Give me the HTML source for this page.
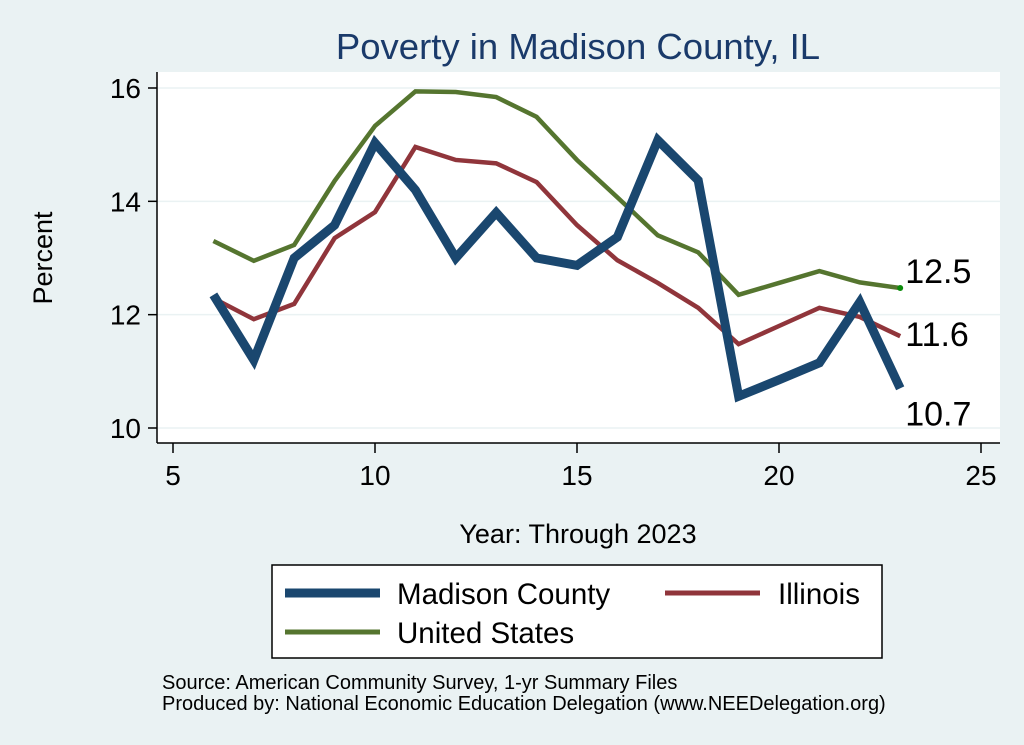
<!DOCTYPE html>
<html><head><meta charset="utf-8"><style>
body{margin:0;background:#eaf2f3;}
svg{display:block;font-family:"Liberation Sans",sans-serif;}
</style></head><body>
<svg id="chart" width="1024" height="745">
<rect width="1024" height="745" fill="#eaf2f3"/>
<text x="578" y="59" font-size="36.5" fill="#1a3a6a" text-anchor="middle">Poverty in Madison County, IL</text>
<rect x="157" y="72" width="843" height="371" fill="#fff"/>
<g id="grid"></g><g id="axes"></g><g id="series"></g>
<text x="52" y="258" font-size="27" text-anchor="middle" transform="rotate(-90 52 258)">Percent</text>
<text x="578" y="543" font-size="27" text-anchor="middle">Year: Through 2023</text>
<g>
<rect x="272" y="565" width="610" height="93" fill="#fff" stroke="#000" stroke-width="1.5"/>
<line x1="285" y1="593" x2="380" y2="593" stroke="#1a476f" stroke-width="9"/>
<text x="397" y="604" font-size="29.5">Madison County</text>
<line x1="665" y1="593" x2="760" y2="593" stroke="#90353b" stroke-width="5"/>
<text x="778" y="604" font-size="29.5">Illinois</text>
<line x1="285" y1="632" x2="380" y2="632" stroke="#55752f" stroke-width="5"/>
<text x="397" y="643" font-size="29.5">United States</text>
</g>
<text x="162" y="689" font-size="20">Source: American Community Survey, 1-yr Summary Files</text>
<text x="162" y="710" font-size="20">Produced by: National Economic Education Delegation (www.NEEDelegation.org)</text>
</svg>
<script>
const years=[6,7,8,9,10,11,12,13,14,15,16,17,18,19,20,21,22,23];
const madison=[12.35,11.2,13.0,13.58,15.03,14.2,13.0,13.8,13.0,12.87,13.37,15.08,14.37,10.56,10.85,11.15,12.22,10.7];
const illinois=[12.29,11.92,12.19,13.35,13.81,14.96,14.73,14.67,14.34,13.58,12.96,12.56,12.12,11.48,11.8,12.12,11.96,11.62];
const us=[13.3,12.95,13.23,14.36,15.33,15.94,15.93,15.84,15.49,14.73,14.07,13.4,13.1,12.35,12.56,12.77,12.57,12.47];
const xTicks=[5,10,15,20,25];
const yTicks=[10,12,14,16];
const endLabels=["12.5","11.6","10.7"];
const NS="http://www.w3.org/2000/svg";
const X=v=>173+(v-5)*(981-173)/20;
const Y=v=>428-(v-10)*(428-88)/6;
function mk(t,a,p){const e=document.createElementNS(NS,t);for(const k in a)e.setAttribute(k,a[k]);p.appendChild(e);return e;}
const grid=document.getElementById('grid'),axes=document.getElementById('axes'),ser=document.getElementById('series');
yTicks.forEach(t=>{
 const g=mk('line',{x1:157,x2:1000,y1:Y(t),y2:Y(t),stroke:'#eaf2f3','stroke-width':1.5},grid);
 
 
 const tk=mk('line',{x1:148,x2:157,y1:Y(t),y2:Y(t),stroke:'#000','stroke-width':1.5},axes);
 
 
 const l=mk('text',{x:141,y:Y(t)+10,'font-size':28,'text-anchor':'end'},axes);l.textContent=t;
 
 
});
xTicks.forEach(t=>{
 const tk=mk('line',{x1:X(t),x2:X(t),y1:443,y2:453,stroke:'#000','stroke-width':1.5},axes);
 
 
 const l=mk('text',{x:X(t),y:485,'font-size':28,'text-anchor':'middle'},axes);l.textContent=t;
 
 
});
const ya=mk('line',{x1:157,x2:157,y1:72,y2:443,stroke:'#000','stroke-width':1.5},axes);


const xa=mk('line',{x1:157,x2:1000,y1:443,y2:443,stroke:'#000','stroke-width':1.5},axes);


function line(vals,color,w,name){
 const p=mk('polyline',{points:vals.map((v,i)=>X(years[i])+','+Y(v)).join(' '),fill:'none',stroke:color,'stroke-width':w,'stroke-linejoin':'miter'},ser);
 
 
}
line(us,'#55752f',4.5,'line-united-states');
line(illinois,'#90353b',4.5,'line-illinois');
line(madison,'#1a476f',9,'line-madison-county');
const last=years.length-1;
const dot=mk('circle',{cx:X(years[last]),cy:Y(us[last]),r:3,fill:'#0a8a0a'},ser);


[[us,-5],[illinois,10],[madison,37]].forEach((s,i)=>{
 const t=mk('text',{x:X(years[last])+5,y:Y(s[0][last])+s[1],'font-size':34},ser);
 t.textContent=endLabels[i];
 
 
});
</script>
</body></html>
